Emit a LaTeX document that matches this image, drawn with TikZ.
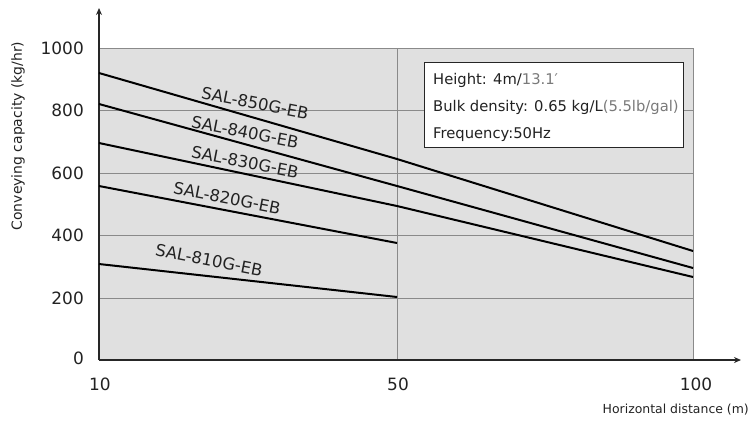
\documentclass[tikz,border=0pt]{standalone}
\usepackage{fontspec}
\setmainfont{DejaVu Sans}
\usetikzlibrary{arrows.meta}
\definecolor{plotbg}{HTML}{E0E0E0}
\definecolor{gridc}{HTML}{8A8A8A}
\definecolor{subt}{HTML}{7A7A7A}
\definecolor{txt}{HTML}{222222}
\begin{document}
\begin{tikzpicture}[x=1bp,y=-1bp,
  gridline/.style={draw=gridc, line width=1bp},
  axisline/.style={draw=black!85, line width=1.3bp, -{Stealth[length=7bp,width=6bp]}},
  dataline/.style={draw=black, line width=2bp},
  tick/.style={font=\fontsize{17}{20}\selectfont, text=txt, inner sep=0pt},
  serieslabel/.style={font=\fontsize{16.5}{19}\selectfont, text=txt, inner sep=0pt, rotate=-11},
  legendtext/.style={font=\fontsize{14.8}{17}\selectfont, text=txt, inner sep=0pt, anchor=west},
  axistitle/.style={font=\fontsize{14}{16}\selectfont, text=txt, inner sep=0pt}]
\useasboundingbox (0,0) rectangle (751,424);
% plot area
\fill[plotbg] (99,48) rectangle (693,360);
\foreach \yy in {48,110,173,235,298} \draw[gridline] (99,\yy) -- (693,\yy);
\draw[gridline] (397,48) -- (397,360);
\draw[gridline] (693,48) -- (693,360);
% axes
\coordinate (origin) at (99,360);
\coordinate (ytop) at (99,8);
\coordinate (xend) at (741,360);
\draw[axisline] (origin) -- (ytop);
\draw[axisline] (origin) -- (xend);
% tick labels
\node[tick, anchor=east] (y1000) at (84,48) {1000};
\node[tick, anchor=east] (y800) at (84,110) {800};
\node[tick, anchor=east] (y600) at (84,173) {600};
\node[tick, anchor=east] (y400) at (84,235) {400};
\node[tick, anchor=east] (y200) at (84,298) {200};
\node[tick, anchor=east] (y0) at (84,358) {0};
\node[tick] (x10) at (100,384) {10};
\node[tick] (x50) at (398,384) {50};
\node[tick] (x100) at (696,384) {100};
% axis titles
\node[axistitle, rotate=90] (ytitle) at (18,136) {Conveying capacity (kg/hr)};
\node[axistitle, font=\fontsize{12.5}{15}\selectfont, anchor=east] (xtitle) at (749,410) {Horizontal distance (m)};
% data lines
\coordinate (a1) at (99,73);  \coordinate (a2) at (397,159); \coordinate (a3) at (693,251);
\coordinate (b1) at (99,104); \coordinate (b2) at (397,186); \coordinate (b3) at (693,268);
\coordinate (c1) at (99,143); \coordinate (c2) at (397,206); \coordinate (c3) at (693,277);
\coordinate (d1) at (99,186); \coordinate (d2) at (397,243);
\coordinate (e1) at (99,264); \coordinate (e2) at (397,297);
\draw[dataline] (a1) -- (a2) -- (a3);
\draw[dataline] (b1) -- (b2) -- (b3);
\draw[dataline] (c1) -- (c2) -- (c3);
\draw[dataline] (d1) -- (d2);
\draw[dataline] (e1) -- (e2);
% series labels
\node[serieslabel] (l850) at (255,103) {SAL-850G-EB};
\node[serieslabel] (l840) at (245,132) {SAL-840G-EB};
\node[serieslabel] (l830) at (245,162) {SAL-830G-EB};
\node[serieslabel] (l820) at (227,198) {SAL-820G-EB};
\node[serieslabel] (l810) at (209,260) {SAL-810G-EB};
% legend box
\node[draw=black!85, line width=1.3bp, fill=white, minimum width=259bp, minimum height=85bp, anchor=north west, inner sep=0pt] (legend) at (424,62) {};
\node[legendtext] (h) at (433,80) {Height: 4m/\textcolor{subt}{13.1′}};
\node[legendtext] (bd) at (433,107) {Bulk density: 0.65 kg/L\textcolor{subt}{(5.5lb/gal)}};
\node[legendtext] (fq) at (433,135) {Frequency:50Hz};
\end{tikzpicture}
\end{document}
